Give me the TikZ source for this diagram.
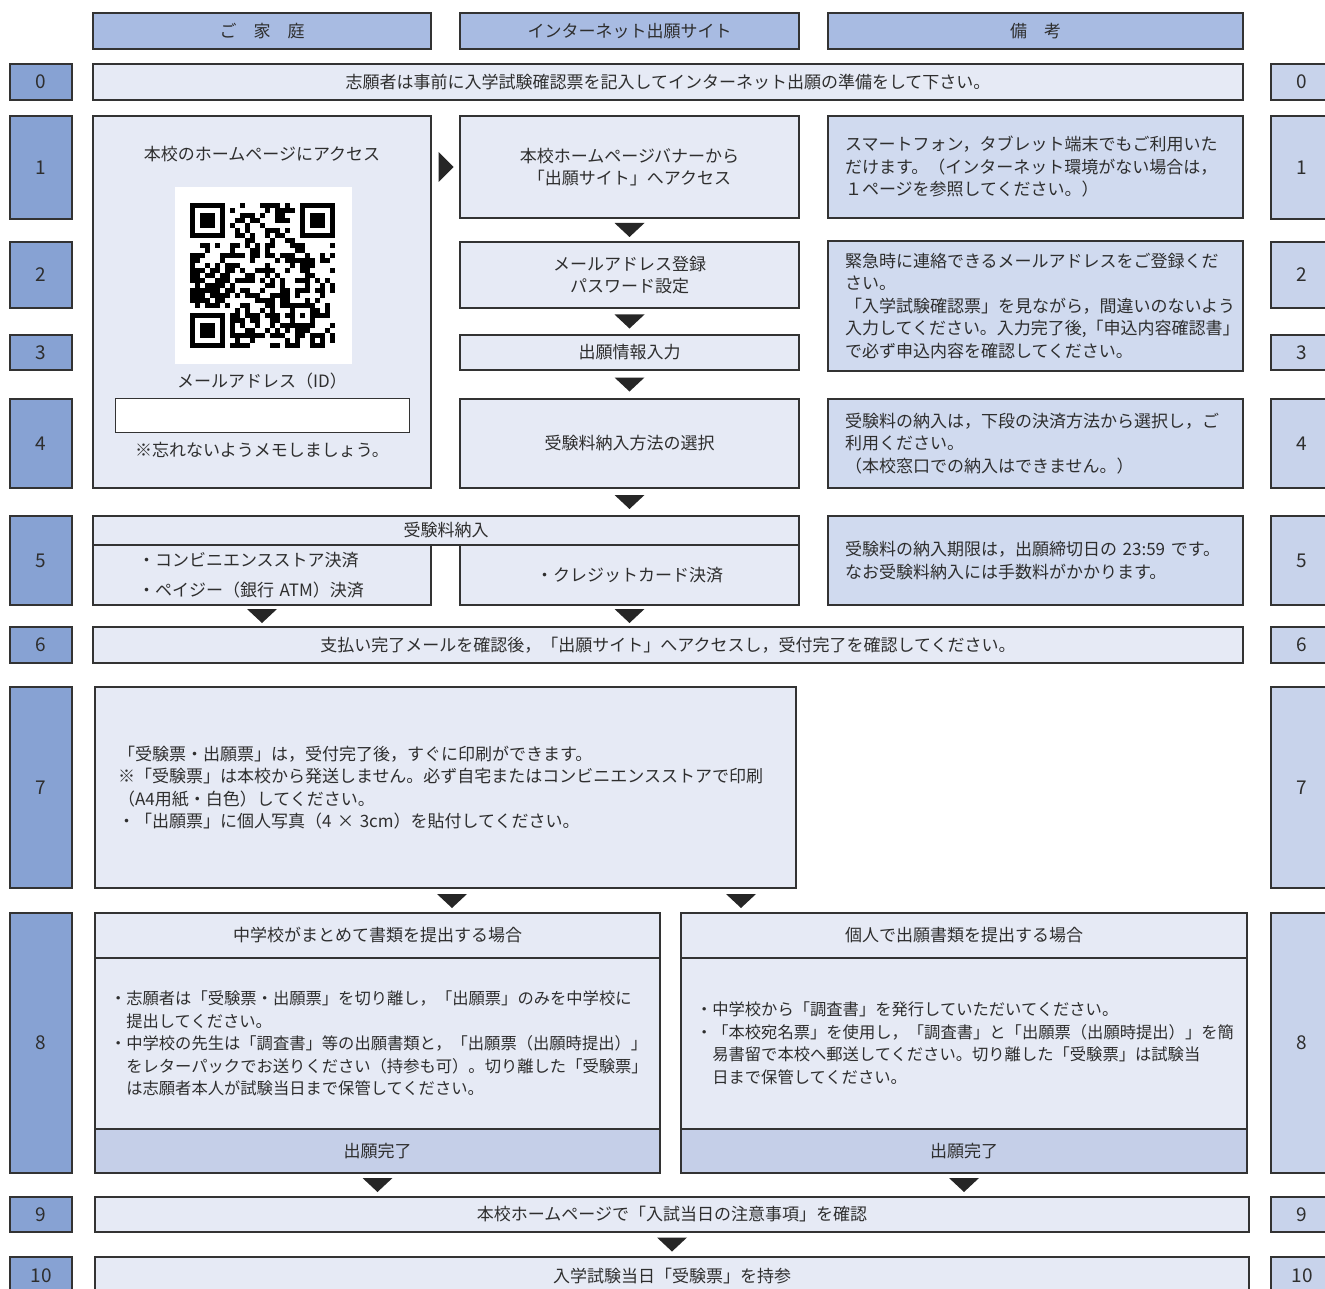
\documentclass[tikz,border=0pt]{standalone}
\usepackage{fontspec}
\setmainfont{Noto Sans CJK JP}
\usetikzlibrary{calc}
\definecolor{ink}{HTML}{2E2E2E}
\definecolor{frame}{HTML}{333333}
\definecolor{hdrblue}{HTML}{A8BBE2}
\definecolor{stepblue}{HTML}{87A2D3}
\definecolor{steppale}{HTML}{C8D3EB}
\definecolor{boxpale}{HTML}{E6EAF5}
\definecolor{notepale}{HTML}{D0DAEF}
\definecolor{donepale}{HTML}{C5CFE8}
\begin{document}
\begin{tikzpicture}[x=1pt,y=-1pt,
  every node/.style={font=\fontsize{17}{22.5}\selectfont,text=ink},
  hdr/.style={draw=frame,line width=1.4pt,fill=hdrblue,inner sep=0,minimum height=36},
  stepL/.style={draw=frame,line width=1.4pt,fill=stepblue,inner sep=0,minimum width=62,
    font=\fontsize{19}{22}\selectfont},
  stepR/.style={stepL,fill=steppale},
  box/.style={draw=frame,line width=1.4pt,fill=boxpale,inner sep=0,align=center},
  note/.style={draw=frame,line width=1.4pt,fill=notepale,inner xsep=17,inner ysep=0,text width=381,align=left},
  downtri/.pic={\fill[black!85] (-15,-7) -- (15,-7) -- (0,7) -- cycle;},
  righttri/.pic={\fill[black!85] (-7,-15) -- (-7,15) -- (8,0) -- cycle;}]
\useasboundingbox (0,0) rectangle (1325,1289);
\clip (0,0) rectangle (1325,1289);

% column heads
\node[hdr,minimum width=338] (hHome) at (262,31) {ご　家　庭};
\node[hdr,minimum width=339] (hSite) at (629.5,31) {インターネット出願サイト};
\node[hdr,minimum width=415] (hNote) at (1035.5,31) {備　考};

% step numbers on both sides
\foreach \n/\y/\h in {0/82/36,1/167.5/103,2/275/66,3/352.5/35,4/443.5/89,5/560.5/89,
  6/645/36,7/787.5/201,8/1043/260,9/1214.5/35,10/1276/38}{
  \node[stepL,minimum height=\h] (L\n) at (41,\y) {\n};
  \node[stepR,minimum height=\h] (R\n) at (1302,\y) {\n};
}

\node[box,minimum width=1150,minimum height=36] (r0) at (668,82)
  {志願者は事前に入学試験確認票を記入してインターネット出願の準備をして下さい。};

% home page box with QR
\node[box,minimum width=338,minimum height=372] (home) at (262,302) {};
\node (homeT) at (262,154) {本校のホームページにアクセス};
\node[fill=white,inner sep=0,minimum size=177] (qrbg) at (263.5,275.5) {};
\begin{scope}[shift={(190,203)}]
  \pgfmathsetseed{2024}
  \foreach \i in {0,...,28}{
    \foreach \j in {0,...,28}{
      \pgfmathrandominteger{\q}{0}{1}
      \pgfmathtruncatemacro{\skipm}{or(and(\i<8,\j<8),or(and(\i>20,\j<8),or(and(\i<8,\j>20),and(and(\i>19,\i<25),and(\j>19,\j<25)))))}
      \ifnum\q>\skipm \fill[black] (\i*5,\j*5) rectangle ++(5,5);\fi
    }
  }
  \foreach \a/\b in {0/0,22/0,0/22}{
    \fill[black] (\a*5,\b*5) rectangle ++(35,35);
    \fill[white] (\a*5+5,\b*5+5) rectangle ++(25,25);
    \fill[black] (\a*5+10,\b*5+10) rectangle ++(15,15);
  }
  \fill[black] (100,100) rectangle ++(25,25);
  \fill[white] (105,105) rectangle ++(15,15);
  \fill[black] (110,110) rectangle ++(5,5);
\end{scope}
\node (mailT) at (262,381) {メールアドレス（ID）};
\node[draw=frame,line width=0.8pt,fill=white,minimum width=294,minimum height=34] (memo) at (262,415) {};
\node (memoT) at (262,450) {※忘れないようメモしましょう。};

% site column
\node[box,minimum width=339,minimum height=102] (site) at (629.5,167)
  {本校ホームページバナーから\\「出願サイト」へアクセス};
\node[box,minimum width=339,minimum height=66] (mail) at (629.5,275)
  {メールアドレス登録\\パスワード設定};
\node[box,minimum width=339,minimum height=35] (info) at (629.5,352.5) {出願情報入力};
\node[box,minimum width=339,minimum height=89] (pay) at (629.5,443.5) {受験料納入方法の選択};

% notes
\node[note,minimum height=102] (n1) at (1035.5,167)
  {スマートフォン，タブレット端末でもご利用いた\\だけます。（インターネット環境がない場合は，\\１ページを参照してください。）};
\node[note,minimum height=130] (n2) at (1035.5,306)
  {緊急時に連絡できるメールアドレスをご登録くだ\\さい。\\「入学試験確認票」を見ながら，間違いのないよう\\入力してください。入力完了後,「申込内容確認書」\\で必ず申込内容を確認してください。};
\node[note,minimum height=89] (n4) at (1035.5,443.5)
  {受験料の納入は，下段の決済方法から選択し，ご\\利用ください。\\（本校窓口での納入はできません。）};
\node[note,minimum height=89] (n5) at (1035.5,560.5)
  {受験料の納入期限は，出願締切日の 23:59 です。\\なお受験料納入には手数料がかかります。};

% payment
\node[box,minimum width=706,minimum height=29] (fee) at (446,530.5) {受験料納入};
\node[box,minimum height=60,align=left,inner xsep=45,text width=248,
  font=\fontsize{17}{30}\selectfont] (cvs) at (262,575)
  {・コンビニエンスストア決済\\・ペイジー（銀行 ATM）決済};
\node[box,minimum width=339,minimum height=60] (card) at (629.5,575) {・クレジットカード決済};

\node[box,minimum width=1150,minimum height=36] (r6) at (668,645)
  {支払い完了メールを確認後，「出願サイト」へアクセスし，受付完了を確認してください。};

\node[box,minimum height=201,align=left,inner xsep=23,text width=655] (r7) at (445.5,787.5)
  {「受験票・出願票」は，受付完了後，すぐに印刷ができます。\\※「受験票」は本校から発送しません。必ず自宅またはコンビニエンスストアで印刷\\（A4用紙・白色）してください。\\・「出願票」に個人写真（4 × 3cm）を貼付してください。};

% two ways of sending
\node[box,minimum width=565,minimum height=45] (schoolH) at (377.5,935.5) {中学校がまとめて書類を提出する場合};
\node[box,minimum height=171,align=left,inner xsep=15,text width=535,
  font=\fontsize{16.3}{22.5}\selectfont] (schoolB) at (377.5,1043.5)
  {・志願者は「受験票・出願票」を切り離し，「出願票」のみを中学校に\\\hspace{1em}提出してください。\\・中学校の先生は「調査書」等の出願書類と，「出願票（出願時提出）」\\\hspace{1em}をレターパックでお送りください（持参も可）。切り離した「受験票」\\\hspace{1em}は志願者本人が試験当日まで保管してください。};
\node[box,fill=donepale,minimum width=565,minimum height=44] (schoolF) at (377.5,1151) {出願完了};

\node[box,minimum width=566,minimum height=45] (selfH) at (964,935.5) {個人で出願書類を提出する場合};
\node[box,minimum height=171,align=left,inner xsep=15,text width=536,
  font=\fontsize{16.3}{22.5}\selectfont] (selfB) at (964,1043.5)
  {・中学校から「調査書」を発行していただいてください。\\・「本校宛名票」を使用し，「調査書」と「出願票（出願時提出）」を簡\\\hspace{1em}易書留で本校へ郵送してください。切り離した「受験票」は試験当\\\hspace{1em}日まで保管してください。};
\node[box,fill=donepale,minimum width=566,minimum height=44] (selfF) at (964,1151) {出願完了};

\node[box,minimum width=1154,minimum height=35] (r9) at (672,1214.5)
  {本校ホームページで「入試当日の注意事項」を確認};
\node[box,minimum width=1154,minimum height=38] (r10) at (672,1276)
  {入学試験当日「受験票」を持参};

% flow marks
\pic at ($(home.east|-site.west)!.5!(site.west)$) {righttri};
\foreach \a/\b in {site/mail,mail/info,info/pay,pay/fee,cvs/r6,card/r6,schoolF/r9,selfF/r9,r9/r10}
  \pic at ($(\a.south)!.5!(\a.south|-\b.north)$) {downtri};
\pic at (452,901) {downtri};
\pic at (741,901) {downtri};
\end{tikzpicture}
\end{document}
